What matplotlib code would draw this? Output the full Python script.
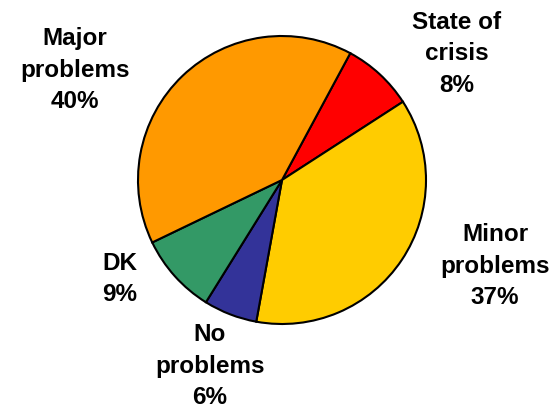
import matplotlib
matplotlib.use("Agg")
import matplotlib.pyplot as plt

# 슬라이스 순서: 시계 방향, 빨강(State of crisis)부터
labels = ["State of\ncrisis", "Minor\nproblems", "No\nproblems", "DK", "Major\nproblems"]
shares = [8, 37, 6, 9, 40]
colors = ["#FF0000", "#FFCC00", "#333399", "#339966", "#FF9900"]

# 라벨 위치 (픽셀, 위에서 아래로)
label_pos = [(457, 54), (495, 266), (210, 366), (120, 279), (75, 70)]

W, H = 551, 413
fig = plt.figure(figsize=(W / 100, H / 100), dpi=100)
ax = fig.add_axes([0, 0, 1, 1])
ax.set_xlim(0, W)
ax.set_ylim(0, H)
ax.set_aspect("equal")
ax.axis("off")

ax.pie(shares, colors=colors, startangle=61.7, counterclock=False,
       center=(282, H - 180), radius=144,
       wedgeprops=dict(edgecolor="black", linewidth=1.5))
ax.set_xlim(0, W)
ax.set_ylim(0, H)

for lab, val, (x, y) in zip(labels, shares, label_pos):
    ax.text(x, H - y, f"{lab}\n{val}%", ha="center", va="center",
            fontsize=17.5, fontweight="bold", family="Liberation Sans",
            linespacing=1.45)

fig.savefig("out.png", dpi=100)
